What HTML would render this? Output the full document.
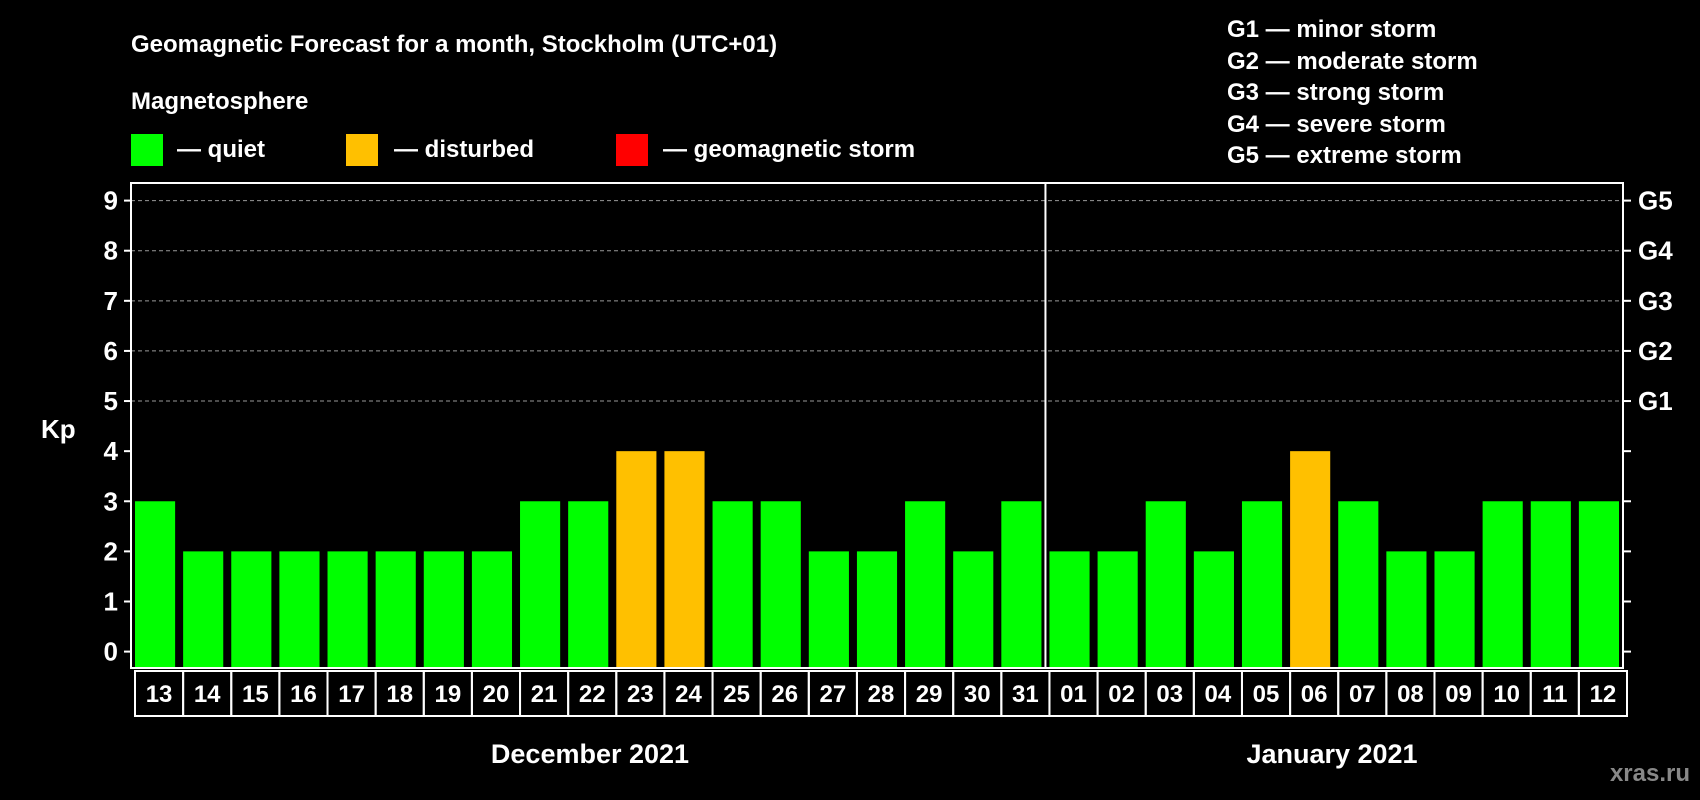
<!DOCTYPE html>
<html><head><meta charset="utf-8"><style>
html,body{margin:0;padding:0;background:#000;}
svg{display:block;font-family:"Liberation Sans",Arial,sans-serif;font-weight:bold;}
</style></head><body>
<svg id="chart" width="1700" height="800" viewBox="0 0 1700 800">
<text x="131" y="52" fill="#fff" font-size="24">Geomagnetic Forecast for a month, Stockholm (UTC+01)</text>
<text x="131" y="109" fill="#fff" font-size="24">Magnetosphere</text>
<g><rect x="131" y="134" width="32" height="32" fill="#00ff00"/><text x="177" y="157" fill="#fff" font-size="24">— quiet</text></g>
<g><rect x="346" y="134" width="32" height="32" fill="#ffc000"/><text x="394" y="157" fill="#fff" font-size="24">— disturbed</text></g>
<g><rect x="616" y="134" width="32" height="32" fill="#ff0000"/><text x="663" y="157" fill="#fff" font-size="24">— geomagnetic storm</text></g>
<g fill="#fff" font-size="24">
<text x="1227" y="37">G1 — minor storm</text>
<text x="1227" y="69">G2 — moderate storm</text>
<text x="1227" y="100">G3 — strong storm</text>
<text x="1227" y="132">G4 — severe storm</text>
<text x="1227" y="163">G5 — extreme storm</text>
</g>
<text x="41" y="438" fill="#fff" font-size="26">Kp</text>
<g id="grid"></g><g id="bars"></g><g id="axes"></g>
<text x="590" y="763" fill="#fff" font-size="27" text-anchor="middle">December 2021</text>
<text x="1332" y="763" fill="#fff" font-size="27" text-anchor="middle">January 2021</text>
<text x="1690" y="781" fill="#888" font-size="24" text-anchor="end">xras.ru</text>
</svg>
<script>
const days = ["13","14","15","16","17","18","19","20","21","22","23","24","25","26","27","28","29","30","31","01","02","03","04","05","06","07","08","09","10","11","12"];
const kpValues = [3,2,2,2,2,2,2,2,3,3,4,4,3,3,2,2,3,2,3,2,2,3,2,3,4,3,2,2,3,3,3];
const yTicks = [0,1,2,3,4,5,6,7,8,9];
const gLabels = ["","","","","","G1","G2","G3","G4","G5"];
const monthBreakIndex = 19;

const NS="http://www.w3.org/2000/svg";
const L=131,R=1623,T=183,B=668,Y0=651.6,Y9=200.6;
const pitch=(R-L)/days.length;
function y(v){return Y0+(Y9-Y0)*v/9;}
function x(i){return L+i*pitch;}
function mk(t,a,p){const e=document.createElementNS(NS,t);for(const k in a)e.setAttribute(k,a[k]);p.appendChild(e);return e;}
const grid=document.getElementById('grid'),bars=document.getElementById('bars'),axes=document.getElementById('axes');
yTicks.forEach((v,i)=>{
  if(v>=5){const g=mk('line',{x1:L,x2:R,y1:y(v),y2:y(v),stroke:'#999','stroke-width':1,'stroke-dasharray':'4,3'},grid);
  
  }
  const t=mk('line',{x1:L-7,x2:L,y1:y(v),y2:y(v),stroke:'#fff','stroke-width':2},axes);
  
  
  const lb=mk('text',{x:L-13,y:y(v)+9,fill:'#fff','font-size':26,'text-anchor':'end'},axes);lb.textContent=v;
  
  
  const rt=mk('line',{x1:R,x2:R+8,y1:y(v),y2:y(v),stroke:'#fff','stroke-width':2},axes);
  
  
  if(gLabels[i]){const gl=mk('text',{x:R+15,y:y(v)+9,fill:'#fff','font-size':26},axes);gl.textContent=gLabels[i];
  
  }
});
kpValues.forEach((v,i)=>{
  const r=mk('rect',{x:x(i)+4,y:y(v),width:pitch-8,height:B-1-y(v),fill:v>=5?'#ff0000':(v>=4?'#ffc000':'#00ff00')},bars);
  
  
  const c=mk('rect',{x:x(i)+4,y:671,width:pitch,height:45,fill:'none',stroke:'#fff','stroke-width':2},axes);
  
  
  const t=mk('text',{x:x(i)+4+pitch/2,y:702,fill:'#fff','font-size':24,'text-anchor':'middle'},axes);t.textContent=days[i];
  
  
});
const box=mk('rect',{x:L,y:T,width:R-L,height:B-T,fill:'none',stroke:'#fff','stroke-width':2},axes);


const dv=mk('line',{x1:x(monthBreakIndex),x2:x(monthBreakIndex),y1:T,y2:B,stroke:'#fff','stroke-width':2},axes);


</script>
</body></html>
